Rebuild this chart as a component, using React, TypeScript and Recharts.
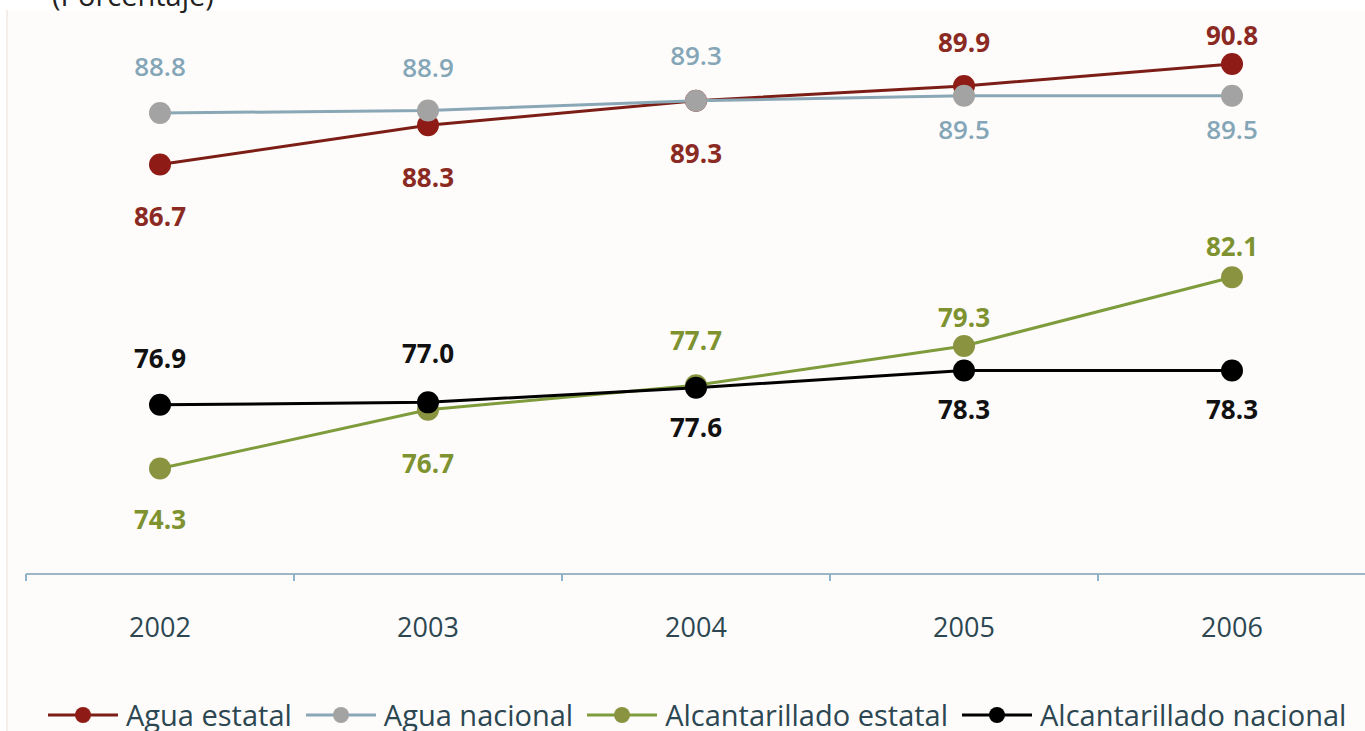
import React from 'react';
import { LineChart, Line, XAxis, YAxis, Legend } from 'recharts';

// ---- data ----
const years = [2002, 2003, 2004, 2005, 2006];
const yearEdges = [2001.5, 2002.5, 2003.5, 2004.5, 2005.5, 2006.5];
const aguaEstatal = [86.7, 88.3, 89.3, 89.9, 90.8];
const aguaNacional = [88.8, 88.9, 89.3, 89.5, 89.5];
const alcantarilladoEstatal = [74.3, 76.7, 77.7, 79.3, 82.1];
const alcantarilladoNacional = [76.9, 77.0, 77.6, 78.3, 78.3];
const seriesNames = ['Agua estatal', 'Agua nacional', 'Alcantarillado estatal', 'Alcantarillado nacional'];

const data = years.map((year, i) => ({
  year,
  ae: aguaEstatal[i],
  an: aguaNacional[i],
  ce: alcantarilladoEstatal[i],
  cn: alcantarilladoNacional[i],
}));

// ---- styles ----
const FONT = "'Open Sans', 'DejaVu Sans', sans-serif";
const TEXT = '#2c4751';

type SeriesStyle = {
  key: string;
  name: string;
  values: number[];
  line: string;
  dot: string;
  label: string;
  weight: number;
  offsets: number[];
};

const series: SeriesStyle[] = [
  { key: 'ae', name: seriesNames[0], values: aguaEstatal, line: '#7d1e16', dot: '#8e1b15', label: '#8b2a22', weight: 700, offsets: [52, 52, 52, -44, -29] },
  { key: 'an', name: seriesNames[1], values: aguaNacional, line: '#8aa7b6', dot: '#a3a3a3', label: '#84a6b7', weight: 600, offsets: [-47, -44, -46, 33, 33] },
  { key: 'ce', name: seriesNames[2], values: alcantarilladoEstatal, line: '#7f9c3c', dot: '#8a9440', label: '#7e9230', weight: 700, offsets: [50, 53, -45, -29, -31] },
  { key: 'cn', name: seriesNames[3], values: alcantarilladoNacional, line: '#000000', dot: '#000000', label: '#111111', weight: 700, offsets: [-47, -49, 39, 39, 39] },
];

const makeLabel = (s: SeriesStyle) => (props: any) => {
  const { x, y, value } = props;
  let idx = props.index;
  if (idx === undefined || idx === null) idx = s.values.indexOf(Number(value));
  const dy = s.offsets[idx] ?? -40;
  return (
    <text
      x={x}
      y={y + dy}
      textAnchor="middle"
      dominantBaseline="central"
      fill={s.label}
      fontSize={26}
      fontWeight={s.weight}
      fontFamily={FONT}
    >
      {Number(value).toFixed(1)}
    </text>
  );
};

const AxisTick = (props: any) => {
  const { x, y, payload } = props;
  const v = Number(payload.value);
  if (Number.isInteger(v)) {
    return (
      <text x={x} y={y + 63} textAnchor="middle" dominantBaseline="auto" fill={TEXT} fontSize={27} fontFamily={FONT}>
        {v}
      </text>
    );
  }
  return <line x1={x} y1={y} x2={x} y2={y + 7} stroke="#8fb3c8" strokeWidth={2} />;
};

const LegendContent = (props: any) => {
  const payload = props.payload || [];
  return (
    <div style={{ display: 'flex', alignItems: 'center', height: 30, paddingLeft: 48, fontFamily: FONT }}>
      {payload.map((entry: any) => {
        const s = series.find((q) => q.key === entry.dataKey) || series[0];
        return (
          <div key={s.key} style={{ display: 'flex', alignItems: 'center', marginRight: 14 }}>
            <svg width={70} height={24} style={{ marginRight: 8 }}>
              <line x1={0} y1={12} x2={70} y2={12} stroke={s.line} strokeWidth={3} />
              <circle cx={35} cy={12} r={8} fill={s.dot} />
            </svg>
            <span style={{ fontSize: 29, color: TEXT, lineHeight: '30px', whiteSpace: 'nowrap' }}>{entry.value}</span>
          </div>
        );
      })}
    </div>
  );
};

export default function App() {
  return (
    <div style={{ position: 'absolute', left: 0, top: 0, width: 1365, height: 731, overflow: 'hidden', background: '#ffffff' }}>
      <div style={{ position: 'absolute', left: 6, top: 10, width: 1359, height: 721, background: '#fdfcfb', borderLeft: '2px solid #f4eeeb' }} />
      <div style={{ position: 'absolute', left: 52, top: -20, fontFamily: FONT, fontSize: 29, lineHeight: '29px', color: '#222', whiteSpace: 'nowrap' }}>
        (Porcentaje)
      </div>
      <div style={{ position: 'absolute', left: 0, top: 0 }}>
        <LineChart width={1366} height={731} data={data} margin={{ top: 10, right: 0, bottom: 67, left: 26 }}>
          <XAxis
            dataKey="year"
            type="number"
            domain={[2001.5, 2006.5]}
            ticks={[...yearEdges, ...years].sort((a, b) => a - b)}
            interval={0}
            tick={<AxisTick />}
            tickLine={false}
            tickSize={0}
            tickMargin={0}
            axisLine={{ stroke: '#9bb7c6', strokeWidth: 2 }}
            height={60}
            allowDataOverflow
          />
          <YAxis type="number" domain={[70, 93]} hide allowDataOverflow />
          <Legend
            verticalAlign="bottom"
            content={<LegendContent />}
            wrapperStyle={{ top: 700, left: 0, width: 1365, height: 30 }}
          />
          {series.map((s) => (
            <Line
              key={s.key}
              dataKey={s.key}
              name={s.name}
              stroke={s.line}
              strokeWidth={3}
              dot={{ r: 11, fill: s.dot, stroke: s.dot, strokeWidth: 0 }}
              activeDot={false}
              isAnimationActive={false}
              label={makeLabel(s)}
            />
          ))}
        </LineChart>
      </div>
    </div>
  );
}
